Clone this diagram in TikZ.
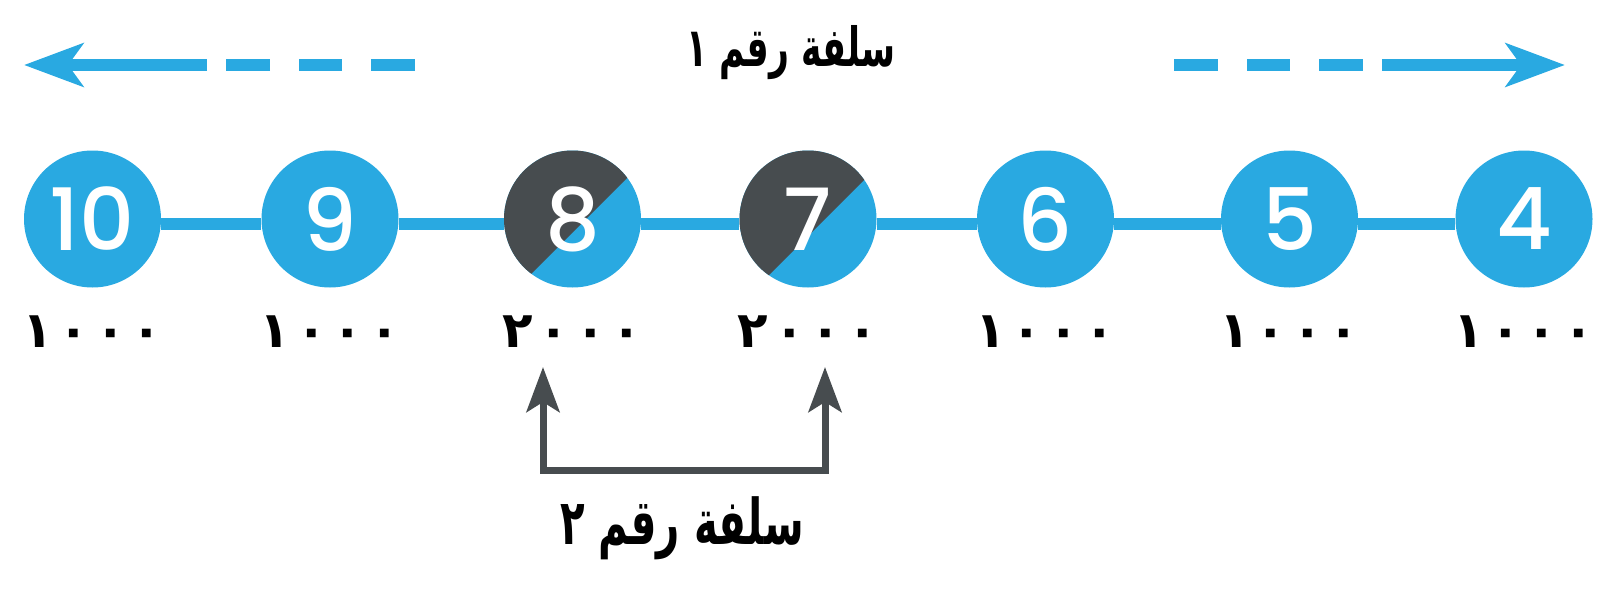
\documentclass[tikz,border=0pt]{standalone}
\usepackage{fontspec}
\usetikzlibrary{arrows.meta,positioning}
\newfontfamily\numfont{Poppins Medium}
\newfontfamily\arabicfont[Script=Arabic]{DejaVu Sans}
\TeXXeTstate=1
\definecolor{loanblue}{RGB}{41,169,225}
\definecolor{loangray}{RGB}{71,76,79}

\tikzstyle{ball} = [circle, fill=loanblue, minimum size=137pt, inner sep=0pt, text=white, font=\numfont\fontsize{86}{86}\selectfont]
\tikzstyle{splitball} = [ball, path picture={\fill[loangray, shift={(path picture bounding box.center)}] (110,-100) -- (-100,110) -- (-100,-100) -- cycle;}]
\tikzstyle{amount} = [inner sep=0pt, font=\arabicfont\bfseries\fontsize{50}{50}\selectfont]
\tikzstyle{title} = [inner sep=0pt, font=\arabicfont\bfseries\fontsize{54}{54}\selectfont]
\tikzstyle{link} = [draw=loanblue, line width=12pt]
\tikzstyle{flow} = [draw=loanblue, line width=12pt, dash pattern={on 44pt off 29pt on 43pt off 29pt on 44pt off 19pt on 600pt}, -{Stealth[length=59pt, width=43pt, inset=15pt]}]
\tikzstyle{bracket} = [draw=loangray, line width=7pt, {Stealth[length=45pt, width=33pt, inset=10pt]}-{Stealth[length=45pt, width=33pt, inset=10pt]}]

\newcommand{\amt}[1]{#1\hspace{6pt}٠\hspace{6pt}٠\hspace{6pt}٠}
\newcommand{\narrow}[1]{\scalebox{0.64}[1]{#1}}

\begin{document}
\begin{tikzpicture}[x=1pt, y=-1pt]
\useasboundingbox (0,0) rectangle (1612,597);

% the loan balls
\foreach \n/\x/\s/\d in {10/92.5/ball/١, 9/330/ball/١, 8/572.5/splitball/٢, 7/808/splitball/٢, 6/1045.5/ball/١, 5/1289.5/ball/١, 4/1524/ball/١}
{
    \node[\s] (c\n) at (\x,219) {\n};
    \node[amount, below=28pt of c\n] (v\n) {\amt{\d}};
}
\foreach \a/\b in {10/9, 9/8, 8/7, 7/6, 6/5, 5/4}
    \draw[link] ([yshift=-5pt]c\a.east) -- ([yshift=-5pt]c\b.west);

% loan 1
\node[title] (loan1) at (791,53) {\narrow{\beginR سلفة رقم ١\endR}};
\coordinate (l1tail) at (415,65);
\coordinate (l1tip) at (24,65);
\coordinate (r1tail) at (1174,65);
\coordinate (r1tip) at (1565,65);
\draw[flow] (l1tail) -- (l1tip);
\draw[flow] (r1tail) -- (r1tip);

% loan 2
\coordinate (up8) at (543,367);
\coordinate (up7) at (825,367);
\draw[bracket] (up8) -- ++(0,103) -| (up7);
\node[title, font=\arabicfont\bfseries\fontsize{63}{63}\selectfont] (loan2) at (682,528) {\narrow{\beginR سلفة رقم ٢\endR}};
\end{tikzpicture}
\end{document}
